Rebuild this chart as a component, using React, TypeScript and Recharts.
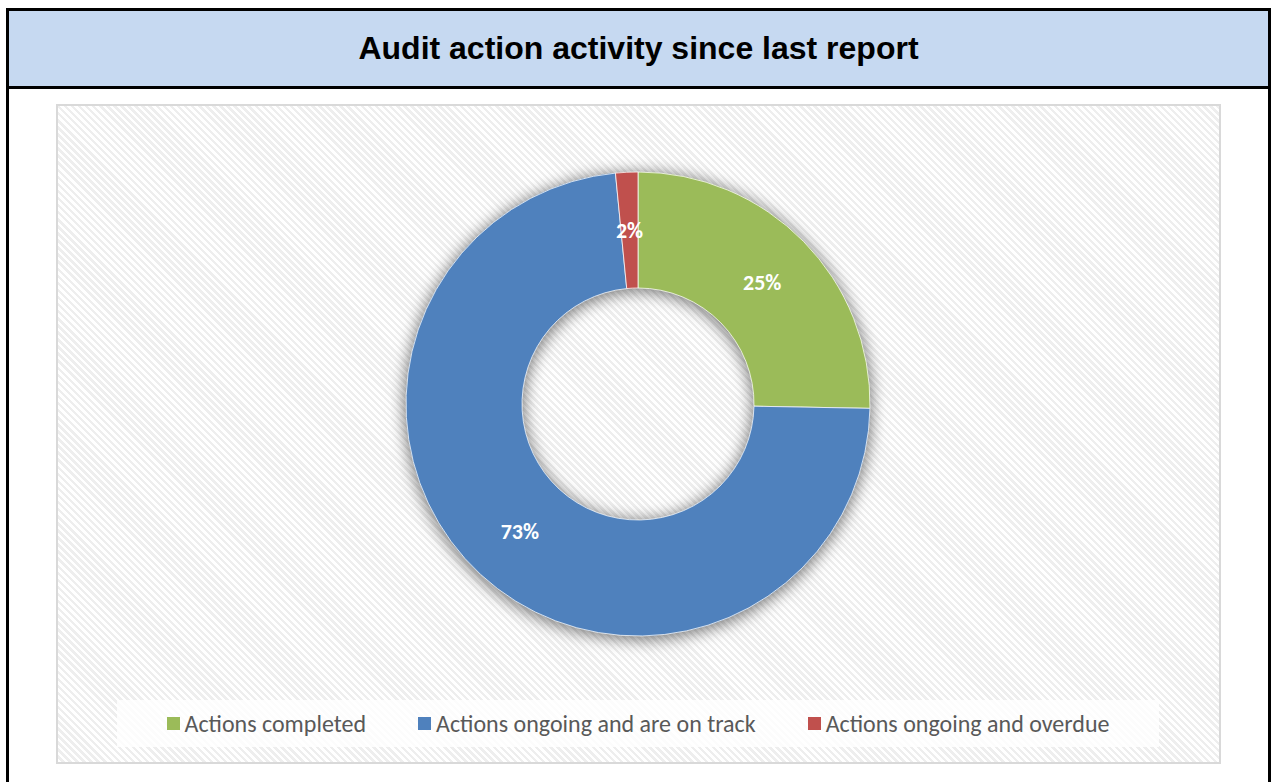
import React from "react";
import { PieChart, Pie, Cell, Legend } from "recharts";

const categories: string[] = ["Actions completed", "Actions ongoing and are on track", "Actions ongoing and overdue"];
const shares: number[] = [25.3, 73.15, 1.55];
const colors: string[] = ["#9BBB59", "#4F81BD", "#C0504D"];

const chartTitle = "Audit action activity since last report";

const data = categories.map((name, i) => ({ name, value: shares[i] }));

const RADIAN = Math.PI / 180;
const bodyFont = "Carlito, Calibri, Lato, 'Open Sans', sans-serif";

const renderLabel = (props: any) => {
    const { cx, cy, midAngle, innerRadius, outerRadius, percent } = props;
    const r = (innerRadius + outerRadius) / 2;
    const x = cx + r * Math.cos(-midAngle * RADIAN);
    const y = cy + r * Math.sin(-midAngle * RADIAN);
    return (
        <text x={x} y={y} fill="#FFFFFF" textAnchor="middle" dominantBaseline="central"
              fontFamily={bodyFont} fontWeight="bold" fontSize={22}>
            {`${(percent * 100).toFixed(0)}%`}
        </text>
    );
};

const renderLegend = (props: any) => {
    const items = (props.payload || []).filter((p: any) => p.type !== "none");
    return (
        <div style={{ display: "flex", justifyContent: "center", alignItems: "center", height: "100%", gap: 52 }}>
            {items.map((entry: any, i: number) => (
                <div key={`legend-${i}`} style={{ display: "flex", alignItems: "center" }}>
                    <span style={{ width: 13, height: 13, background: entry.color, display: "inline-block", marginRight: 5 }} />
                    <span style={{ fontFamily: bodyFont, fontSize: 24, color: "#595959" }}>{entry.value}</span>
                </div>
            ))}
        </div>
    );
};

const App: React.FC = () => {
    return (
        <div>
            <style>{`.donut-shadow { filter: drop-shadow(0px 2px 8px rgba(0,0,0,0.32)); }`}</style>
            {/* outer frame */}
            <div style={{
                position: "absolute", left: 6, top: 8, width: 1265, height: 774, boxSizing: "border-box",
                borderLeft: "3px solid #000", borderRight: "3px solid #000", borderTop: "3px solid #000", background: "#fff",
            }}>
                <div style={{
                    height: 75, background: "#C6D9F1", borderBottom: "3px solid #000",
                    display: "flex", alignItems: "center", justifyContent: "center",
                    fontFamily: "'Liberation Sans', Arial, sans-serif", fontWeight: "bold", fontSize: 32, color: "#000",
                }}>
                    {chartTitle}
                </div>
            </div>
            {/* plot area */}
            <div style={{
                position: "absolute", left: 56, top: 104, width: 1165, height: 660, boxSizing: "border-box",
                border: "2px solid #D9D9D9",
                background: "repeating-linear-gradient(45deg, #FFFFFF 0px, #FFFFFF 2.5px, #EEEEEE 2.5px, #EEEEEE 5px)",
            }}>
                <PieChart width={1161} height={656} margin={{ top: 0, right: 0, bottom: 0, left: 0 }}>
                    <Pie
                        className="donut-shadow"
                        data={data}
                        dataKey="value"
                        nameKey="name"
                        cx={580}
                        cy={298}
                        innerRadius={116}
                        outerRadius={232}
                        startAngle={90}
                        endAngle={-270}
                        stroke="none"
                        legendType="none"
                        label={false}
                        isAnimationActive={false}
                    >
                        {data.map((_, index) => (
                            <Cell key={`shadow-${index}`} fill={colors[index % colors.length]} />
                        ))}
                    </Pie>
                    <Pie
                        data={data}
                        dataKey="value"
                        nameKey="name"
                        cx={580}
                        cy={298}
                        innerRadius={116}
                        outerRadius={232}
                        startAngle={90}
                        endAngle={-270}
                        stroke="#FFFFFF"
                        strokeWidth={0.75}
                        labelLine={false}
                        label={renderLabel}
                        isAnimationActive={false}
                    >
                        {data.map((_, index) => (
                            <Cell key={`cell-${index}`} fill={colors[index % colors.length]} />
                        ))}
                    </Pie>
                    <Legend
                        content={renderLegend}
                        wrapperStyle={{ left: 59, top: 594, width: 1042, height: 47, background: "rgba(255,255,255,0.8)" }}
                    />
                </PieChart>
            </div>
        </div>
    );
};

export default App;
